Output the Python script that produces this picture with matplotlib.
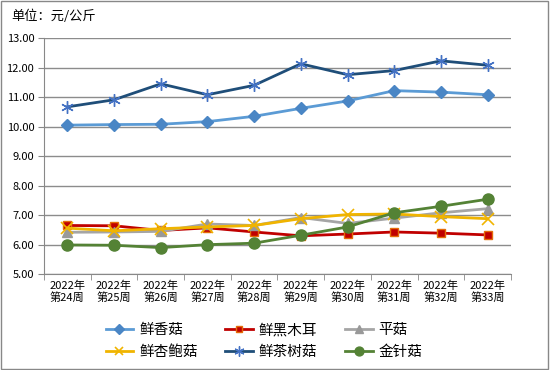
import matplotlib
matplotlib.use('Agg')
import matplotlib.pyplot as plt
from matplotlib.patches import Rectangle

plt.rcParams['font.family'] = ['Noto Sans CJK SC', 'DejaVu Sans']

weeks = ['2022年\n第24周', '2022年\n第25周', '2022年\n第26周', '2022年\n第27周', '2022年\n第28周',
         '2022年\n第29周', '2022年\n第30周', '2022年\n第31周', '2022年\n第32周', '2022年\n第33周']
xianggu = [10.05, 10.07, 10.08, 10.17, 10.35, 10.62, 10.87, 11.22, 11.17, 11.08]
muer = [6.65, 6.64, 6.48, 6.57, 6.43, 6.30, 6.36, 6.43, 6.39, 6.33]
pinggu = [6.42, 6.43, 6.45, 6.70, 6.65, 6.92, 6.72, 6.90, 7.08, 7.22]
xingbaogu = [6.56, 6.47, 6.54, 6.60, 6.65, 6.88, 7.02, 7.04, 6.95, 6.88]
chashugu = [10.67, 10.91, 11.45, 11.08, 11.40, 12.13, 11.76, 11.90, 12.23, 12.08]
jinzhengu = [5.99, 5.98, 5.90, 6.00, 6.05, 6.32, 6.60, 7.08, 7.30, 7.54]

fig = plt.figure(figsize=(5.5, 3.7), dpi=100)
fig.patches.append(Rectangle((0.002, 0.003), 0.995, 0.994, transform=fig.transFigure,
                             fill=False, edgecolor='#888888', lw=1))
ax = fig.add_axes([0.08, 0.259, 0.849, 0.638])

x = range(len(weeks))
ax.plot(x, xianggu, color='#5b9bd5', marker='D', ms=6, mfc='#4a86c5', mec='#4a86c5', lw=2, label='鲜香菇')
ax.plot(x, muer, color='#c00000', marker='s', ms=6, mfc='#c00000', mec='#e46c0a', lw=2, label='鲜黑木耳')
ax.plot(x, pinggu, color='#a5a5a5', marker='^', ms=7, mfc='#999999', mec='#999999', lw=2, label='平菇')
ax.plot(x, xingbaogu, color='#f0b400', marker='x', ms=8, mew=1.2, mec='#f0b400', lw=2, label='鲜杏鲍菇')
ax.plot(x, chashugu, color='#1f4e79', marker=(6, 2, 0), ms=9, mew=1, mec='#4472c4', lw=2, label='鲜茶树菇')
ax.plot(x, jinzhengu, color='#548235', marker='o', ms=8, mfc='#548235', mec='#548235', lw=2, label='金针菇')

ax.set_xlim(-0.5, len(weeks) - 0.5)
ax.set_ylim(5, 13)
ax.set_yticks([5, 6, 7, 8, 9, 10, 11, 12, 13])
ax.set_yticklabels(['%.2f' % v for v in ax.get_yticks()], fontsize=8)
ax.set_xticks(x)
ax.set_xticklabels(weeks, fontsize=8, linespacing=1.1)
ax.set_xticks([i - 0.5 for i in range(len(weeks) + 1)], minor=True)
ax.tick_params(axis='x', which='major', length=0, pad=5)
ax.tick_params(axis='x', which='minor', length=4, color='#888888')
ax.tick_params(axis='y', length=4, color='#888888', pad=3)
ax.grid(axis='y', color='#8c8c8c', lw=1)
ax.set_axisbelow(True)
for s in ['top', 'right']:
    ax.spines[s].set_visible(False)
ax.spines['left'].set_color('#888888')
ax.spines['bottom'].set_color('#888888')

fig.text(0.02, 0.955, '单位：元/公斤', fontsize=9.5, va='center')

# row-major legend order
h, l = ax.get_legend_handles_labels()
order = [0, 3, 1, 4, 2, 5]
fig.legend([h[i] for i in order], [l[i] for i in order], loc='center', bbox_to_anchor=(0.48, 0.078),
           ncol=3, frameon=False, fontsize=10.5, handlelength=1.9, columnspacing=1.9,
           labelspacing=0.5, handletextpad=0.4, markerscale=0.8)
fig.savefig('out.png', dpi=100)
